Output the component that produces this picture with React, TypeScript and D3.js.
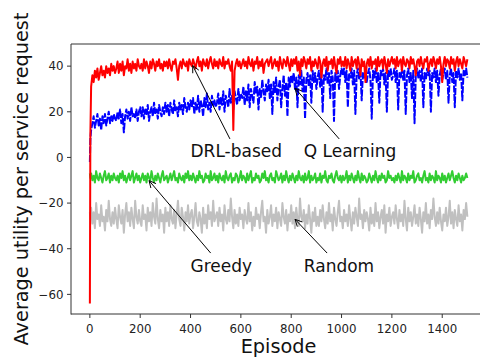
import React, { useEffect, useRef } from 'react';
import * as d3 from 'd3';

const episodes: number[] = [0, 2, ...d3.range(5, 1501, 5)];

const drlBased: number[] = [
  -64, 10,
  31, 36, 33, 38, 35, 39, 34, 37, 40, 36, 38, 35, 40, 37, 39, 36, 41, 38, 40, 37,
  39, 42, 37, 41, 38, 42, 36, 40, 39, 43, 38, 41, 37, 42, 39, 41, 38, 43, 40, 39,
  41, 38, 43, 39, 42, 40, 37, 42, 39, 43, 41, 38, 42, 40, 43, 39, 41, 38, 42, 40,
  42, 39, 43, 40, 38, 42, 41, 43, 39, 34, 40, 42, 39, 43, 41, 40, 42, 38, 43, 41,
  40, 43, 41, 39, 42, 44, 40, 42, 38, 43, 41, 40, 43, 39, 42, 44, 41, 39, 43, 40,
  42, 39, 43, 41, 40, 44, 39, 42, 41, 43, 40, 38, 42, 12, 38, 41, 43, 40, 42, 39,
  41, 43, 40, 42, 39, 44, 41, 40, 43, 38, 42, 41, 44, 39, 42, 40, 43, 37, 41, 42,
  43, 40, 42, 44, 39, 41, 43, 40, 42, 38, 44, 41, 39, 43, 42, 40, 44, 41, 38, 43,
  40, 43, 41, 44, 38, 42, 36, 43, 40, 44, 42, 39, 43, 41, 44, 38, 42, 40, 43, 41,
  39, 44, 42, 35, 41, 43, 40, 44, 38, 42, 41, 43, 39, 44, 40, 37, 43, 41, 44, 40,
  42, 40, 44, 39, 43, 41, 38, 44, 40, 42, 43, 39, 44, 41, 36, 43, 40, 42, 33, 41,
  43, 40, 44, 39, 42, 41, 43, 38, 44, 40, 42, 43, 39, 44, 41, 37, 43, 40, 42, 44,
  41, 43, 39, 44, 40, 42, 43, 38, 44, 41, 40, 43, 42, 39, 44, 41, 43, 40, 36, 42,
  43, 40, 44, 41, 39, 43, 42, 44, 38, 41, 43, 40, 44, 42, 39, 43, 41, 44, 40, 33,
  41, 44, 40, 43, 42, 39, 44, 41, 43, 38, 42, 44, 40, 43, 41, 39, 44, 42, 40, 43,
];

const qLearning: number[] = [
  -2, 8,
  12, 15, 18, 13, 16, 19, 14, 17, 12, 18, 15, 19, 14, 17, 20, 15, 18, 16, 19, 17,
  16, 20, 17, 21, 15, 19, 11, 18, 21, 17, 20, 16, 22, 18, 19, 17, 21, 16, 20, 22,
  18, 22, 17, 21, 19, 23, 16, 20, 22, 18, 24, 19, 21, 17, 23, 20, 18, 22, 19, 24,
  20, 23, 18, 24, 21, 19, 25, 20, 22, 18, 24, 21, 23, 19, 26, 22, 20, 24, 21, 25,
  22, 26, 19, 24, 21, 27, 20, 25, 23, 18, 26, 22, 28, 21, 24, 20, 27, 23, 25, 22,
  24, 28, 21, 26, 23, 29, 20, 27, 25, 22, 30, 24, 27, 21, 29, 26, 23, 30, 25, 28,
  26, 31, 23, 29, 25, 32, 22, 30, 27, 24, 33, 28, 31, 21, 30, 26, 34, 29, 25, 32,
  29, 34, 26, 32, 19, 33, 28, 35, 25, 31, 34, 22, 30, 36, 27, 33, 18, 35, 31, 36,
  33, 37, 30, 35, 22, 36, 32, 38, 29, 35, 17, 34, 37, 31, 36, 24, 38, 33, 37, 30,
  35, 38, 31, 37, 20, 36, 34, 39, 32, 37, 26, 38, 35, 16, 37, 33, 38, 30, 36, 39,
  36, 39, 33, 38, 22, 37, 35, 39, 32, 38, 19, 36, 39, 34, 38, 25, 37, 35, 39, 33,
  37, 39, 34, 17, 38, 35, 39, 33, 37, 24, 38, 36, 39, 32, 37, 20, 38, 35, 39, 34,
  36, 39, 33, 38, 21, 37, 35, 39, 34, 38, 19, 36, 39, 33, 37, 26, 38, 15, 36, 39,
  35, 38, 33, 39, 22, 37, 34, 39, 36, 38, 20, 37, 35, 39, 33, 38, 27, 36, 39, 34,
  37, 39, 34, 38, 24, 36, 39, 33, 37, 22, 38, 35, 39, 34, 37, 25, 38, 36, 39, 35,
];

const greedy: number[] = [
  -7, -9,
  -7, -10, -8, -11, -6, -9, -10, -7, -9, -11, -8, -6, -10, -9, -7, -11, -8, -10, -7, -9,
  -10, -8, -11, -7, -9, -6, -10, -8, -11, -9, -7, -10, -8, -6, -11, -9, -7, -10, -8, -11,
  -9, -7, -10, -8, -11, -7, -9, -10, -6, -9, -11, -8, -10, -7, -9, -11, -8, -6, -10, -9,
  -8, -11, -9, -7, -10, -8, -6, -10, -9, -11, -7, -9, -10, -8, -11, -7, -9, -6, -10, -8,
  -10, -7, -9, -11, -8, -10, -6, -9, -8, -11, -10, -7, -9, -8, -11, -6, -10, -9, -7, -10,
  -8, -11, -7, -9, -10, -8, -11, -6, -9, -10, -8, -7, -11, -9, -10, -7, -8, -11, -9, -6,
  -10, -8, -9, -11, -7, -10, -8, -6, -11, -9, -10, -7, -9, -8, -11, -10, -7, -9, -6, -10,
  -9, -11, -8, -7, -10, -9, -11, -6, -8, -10, -9, -7, -11, -8, -10, -6, -9, -11, -8, -10,
  -7, -9, -11, -8, -10, -6, -9, -10, -8, -11, -7, -10, -9, -6, -11, -8, -10, -9, -7, -11,
  -9, -10, -7, -11, -8, -9, -6, -10, -11, -8, -9, -7, -10, -11, -8, -6, -9, -10, -8, -11,
  -8, -10, -9, -6, -11, -8, -10, -7, -9, -11, -8, -10, -6, -9, -11, -7, -10, -8, -9, -11,
  -10, -7, -9, -11, -8, -10, -6, -9, -11, -8, -10, -7, -9, -8, -11, -10, -6, -9, -8, -10,
  -9, -11, -8, -10, -7, -9, -11, -6, -10, -8, -9, -11, -7, -10, -8, -9, -6, -11, -10, -8,
  -7, -10, -9, -11, -8, -6, -10, -9, -11, -7, -10, -8, -9, -11, -6, -10, -8, -9, -11, -7,
  -10, -8, -11, -9, -7, -10, -8, -6, -9, -11, -8, -10, -7, -9, -11, -8, -10, -9, -7, -9,
];

const randomPolicy: number[] = [
  -24, -27,
  -22, -29, -24, -31, -20, -27, -25, -30, -21, -28, -26, -32, -23, -28, -19, -27, -30, -24, -29, -22,
  -27, -31, -21, -26, -29, -23, -33, -25, -20, -28, -24, -30, -22, -27, -31, -19, -26, -29, -23, -28,
  -30, -21, -27, -25, -32, -22, -28, -24, -30, -20, -26, -29, -18, -27, -31, -23, -28, -25, -33, -22,
  -28, -24, -30, -21, -27, -29, -23, -31, -25, -19, -27, -30, -22, -26, -32, -24, -28, -21, -29, -25,
  -23, -31, -26, -20, -28, -30, -24, -27, -33, -22, -29, -25, -31, -21, -27, -24, -30, -19, -28, -26,
  -24, -30, -22, -28, -25, -32, -21, -27, -29, -23, -28, -18, -26, -31, -23, -29, -25, -30, -22, -27,
  -25, -31, -23, -27, -29, -20, -28, -24, -32, -26, -30, -22, -27, -25, -31, -24, -19, -28, -26, -33,
  -23, -29, -26, -21, -30, -25, -28, -22, -31, -24, -27, -30, -20, -26, -29, -23, -32, -25, -28, -21,
  -29, -24, -31, -22, -27, -30, -18, -26, -28, -23, -31, -25, -29, -21, -27, -33, -24, -28, -22, -30,
  -26, -30, -23, -28, -21, -27, -31, -24, -29, -20, -28, -25, -32, -22, -27, -30, -24, -19, -28, -26,
  -31, -23, -28, -25, -30, -21, -27, -32, -24, -29, -22, -26, -30, -18, -27, -25, -31, -23, -28, -24,
  -27, -32, -22, -29, -25, -30, -20, -28, -24, -31, -26, -23, -29, -21, -33, -25, -28, -22, -30, -26,
  -24, -29, -21, -27, -31, -23, -28, -25, -30, -19, -27, -32, -22, -28, -24, -30, -26, -21, -29, -25,
  -30, -22, -27, -33, -24, -28, -20, -29, -25, -31, -23, -27, -18, -26, -30, -24, -29, -22, -28, -32,
  -25, -28, -22, -30, -26, -19, -29, -24, -31, -23, -27, -30, -21, -28, -25, -32, -23, -27, -20, -26,
];

const xTicks: number[] = [0, 200, 400, 600, 800, 1000, 1200, 1400];
const yTicks: number[] = [-60, -40, -20, 0, 20, 40];

const annLabels: string[] = ['DRL-based', 'Q Learning', 'Greedy', 'Random'];
const annTextX: number[] = [400, 850, 400, 850];
const annTextY: number[] = [0, 0, -50, -50];
const annHeadX: number[] = [405, 810, 230, 810];
const annHeadY: number[] = [41, 31, -9.5, -26.5];

const W = 480;
const H = 358;
const FONT = 'DejaVu Sans, sans-serif';

export default function App() {
  const ref = useRef<SVGSVGElement | null>(null);

  useEffect(() => {
    const svg = d3.select(ref.current);
    svg.selectAll('*').remove();

    const left = 71, right = 486, top = 44, bottom = 314;
    const x = d3.scaleLinear().domain([-74.95, 1573.95]).range([left, right]);
    const y = d3.scaleLinear().domain([-68.6, 49.7]).range([bottom, top]);

    const series = [
      { data: qLearning, color: '#0000ff', dash: '7,1.5' },
      { data: drlBased, color: '#ff0000', dash: null },
      { data: greedy, color: '#32cd32', dash: null },
      { data: randomPolicy, color: '#c0c0c0', dash: null },
    ];
    const order = [3, 2, 0, 1];
    const line = d3
      .line<number>()
      .x((_, i) => x(episodes[i]))
      .y((d) => y(d));

    order.forEach((k) => {
      const s = series[k];
      const p = svg
        .append('path')
        .attr('d', line(s.data.slice(0, episodes.length)) || '')
        .attr('fill', 'none')
        .attr('stroke', s.color)
        .attr('stroke-width', 2)
        .attr('stroke-linejoin', 'round');
      if (s.dash) p.attr('stroke-dasharray', s.dash);
    });

    // spines
    const ax = svg.append('g').attr('stroke', '#333').attr('stroke-width', 1).attr('fill', 'none');
    ax.append('line').attr('x1', left).attr('x2', left).attr('y1', top).attr('y2', bottom + 0.5);
    ax.append('line').attr('x1', left).attr('x2', right).attr('y1', bottom).attr('y2', bottom);
    ax.append('line').attr('x1', left).attr('x2', right).attr('y1', top).attr('y2', top);

    // ticks
    xTicks.forEach((t) => {
      const px = x(t);
      svg.append('line').attr('x1', px).attr('x2', px).attr('y1', bottom).attr('y2', bottom + 4)
        .attr('stroke', '#333').attr('stroke-width', 1);
      svg.append('text').attr('x', px).attr('y', bottom + 18.5).attr('text-anchor', 'middle')
        .attr('font-family', FONT).attr('font-size', 11.8).attr('fill', '#222').text(String(t));
    });
    yTicks.forEach((t) => {
      const py = y(t);
      svg.append('line').attr('x1', left - 4).attr('x2', left).attr('y1', py).attr('y2', py)
        .attr('stroke', '#333').attr('stroke-width', 1);
      svg.append('text').attr('x', left - 7.5).attr('y', py + 4.3).attr('text-anchor', 'end')
        .attr('font-family', FONT).attr('font-size', 11.8).attr('fill', '#222')
        .text(t < 0 ? '\u2212' + Math.abs(t) : String(t));
    });

    // axis labels
    svg.append('text').attr('x', (left + right) / 2).attr('y', 353).attr('text-anchor', 'middle')
      .attr('font-family', FONT).attr('font-size', 19.3).attr('fill', '#111').text('Episode');
    svg.append('text').attr('transform', `translate(28,${(top + bottom) / 2}) rotate(-90)`)
      .attr('text-anchor', 'middle').attr('font-family', FONT).attr('font-size', 19.3)
      .attr('fill', '#111').text('Average utility per service request');

    // annotations
    annLabels.forEach((lab, i) => {
      const tx = x(annTextX[i]);
      const ty = y(annTextY[i]);
      const txt = svg.append('text').attr('x', tx).attr('y', ty).attr('font-family', FONT)
        .attr('font-size', 17).attr('fill', '#111').text(lab);
      const bb = (txt.node() as SVGTextElement).getBBox();
      const cx = bb.x + bb.width / 2;
      const cy = bb.y + bb.height / 2;
      const hx = x(annHeadX[i]);
      const hy = y(annHeadY[i]);
      const edgeY = hy < cy ? bb.y - 2.5 : bb.y + bb.height + 2.5;
      const t = (edgeY - cy) / (hy - cy);
      const sx = cx + t * (hx - cx);
      const sy = edgeY;
      const ang = Math.atan2(hy - sy, hx - sx);
      const ex = hx - 2 * Math.cos(ang);
      const ey = hy - 2 * Math.sin(ang);
      const g = svg.append('g').attr('stroke', '#000').attr('stroke-width', 1).attr('fill', 'none');
      g.append('line').attr('x1', sx).attr('y1', sy).attr('x2', ex).attr('y2', ey);
      const hl = 6.8, hw = 3.4;
      const bx = ex - hl * Math.cos(ang);
      const by = ey - hl * Math.sin(ang);
      const nx = -Math.sin(ang), ny = Math.cos(ang);
      g.append('path').attr('d', `M${bx + nx * hw},${by + ny * hw}L${ex},${ey}L${bx - nx * hw},${by - ny * hw}`);
    });
  }, []);

  return (
    <svg ref={ref} width={W} height={H} style={{ position: 'absolute', left: 0, top: 0, background: '#fff' }} />
  );
}
